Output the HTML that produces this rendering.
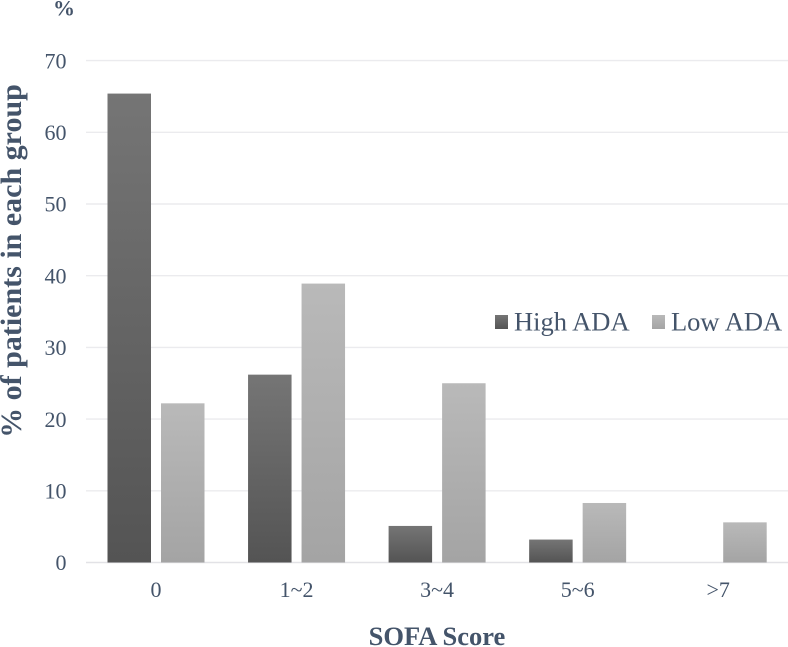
<!DOCTYPE html>
<html>
<head>
<meta charset="utf-8">
<title>SOFA Score chart</title>
<style>
html,body{margin:0;padding:0;background:#fff;}
svg{display:block;}
text{font-family:"Liberation Serif",serif;fill:#44546a;}
</style>
</head>
<body>
<svg id="chart" xmlns="http://www.w3.org/2000/svg" width="788" height="647" viewBox="0 0 788 647">
  <defs>
    <linearGradient id="grad-high" x1="0" y1="0" x2="0" y2="1">
      <stop offset="0" stop-color="#757575"/>
      <stop offset="1" stop-color="#545454"/>
    </linearGradient>
    <linearGradient id="grad-low" x1="0" y1="0" x2="0" y2="1">
      <stop offset="0" stop-color="#b9b9b9"/>
      <stop offset="1" stop-color="#a4a4a4"/>
    </linearGradient>
  </defs>
  <g id="grid"></g>
  <g id="yticks"></g>
  <g id="bars"></g>
  <g id="xticks"></g>
  <text x="64" y="15.5" font-size="22" font-weight="bold" text-anchor="middle">%</text>
  <text transform="translate(21 261) rotate(-90)" font-size="30" font-weight="bold" text-anchor="middle">% of patients in each group</text>
  <text x="437" y="645" font-size="26.5" font-weight="bold" text-anchor="middle">SOFA Score</text>
  <g>
    <rect x="495" y="315" width="13" height="14" fill="url(#grad-high)"/>
    <text x="514" y="330.5" font-size="26.5">High ADA</text>
    <rect x="652" y="315" width="13" height="14" fill="url(#grad-low)"/>
    <text x="671" y="330.5" font-size="26.5">Low ADA</text>
  </g>
</svg>
<script>
var categories = ['0', '1~2', '3~4', '5~6', '>7'];
var highAda = [65.4, 26.2, 5.1, 3.2, 0];
var lowAda = [22.2, 38.9, 25, 8.3, 5.6];
var yTickLabels = [0, 10, 20, 30, 40, 50, 60, 70];

var NS = 'http://www.w3.org/2000/svg';
var barWidth = 43.5;
var barGap = 10;
function yScale(v) { return 562.5 - v * 7.17; }
function xScale(i) { return 156 + i * 140.55; }
function make(tag, attrs, parent) {
  var el = document.createElementNS(NS, tag);
  for (var k in attrs) el.setAttribute(k, attrs[k]);
  parent.appendChild(el);
  return el;
}
var grid = document.getElementById('grid');
var yticks = document.getElementById('yticks');
var bars = document.getElementById('bars');
var xticks = document.getElementById('xticks');

yTickLabels.forEach(function (t) {
  var line = make('line', { x1: 86, x2: 788, y1: yScale(t), y2: yScale(t), stroke: t === 0 ? '#e2e2e6' : '#ebebee', 'stroke-width': 1.4 }, grid);
  
  
  var label = make('text', { x: 66.5, y: yScale(t) + 7.7, 'font-size': 22, 'text-anchor': 'end' }, yticks);
  label.textContent = t;
  
  
});

categories.forEach(function (c, i) {
  var cx = xScale(i);
  if (highAda[i] > 0) {
    var hb = make('rect', { x: cx - barGap / 2 - barWidth, y: yScale(highAda[i]), width: barWidth, height: yScale(0) - yScale(highAda[i]), fill: 'url(#grad-high)' }, bars);
    
    
  }
  if (lowAda[i] > 0) {
    var lb = make('rect', { x: cx + barGap / 2, y: yScale(lowAda[i]), width: barWidth, height: yScale(0) - yScale(lowAda[i]), fill: 'url(#grad-low)' }, bars);
    
    
  }
  var label = make('text', { x: cx, y: 597, 'font-size': 22, 'text-anchor': 'middle' }, xticks);
  label.textContent = c;
  
  
});
</script>
</body>
</html>
